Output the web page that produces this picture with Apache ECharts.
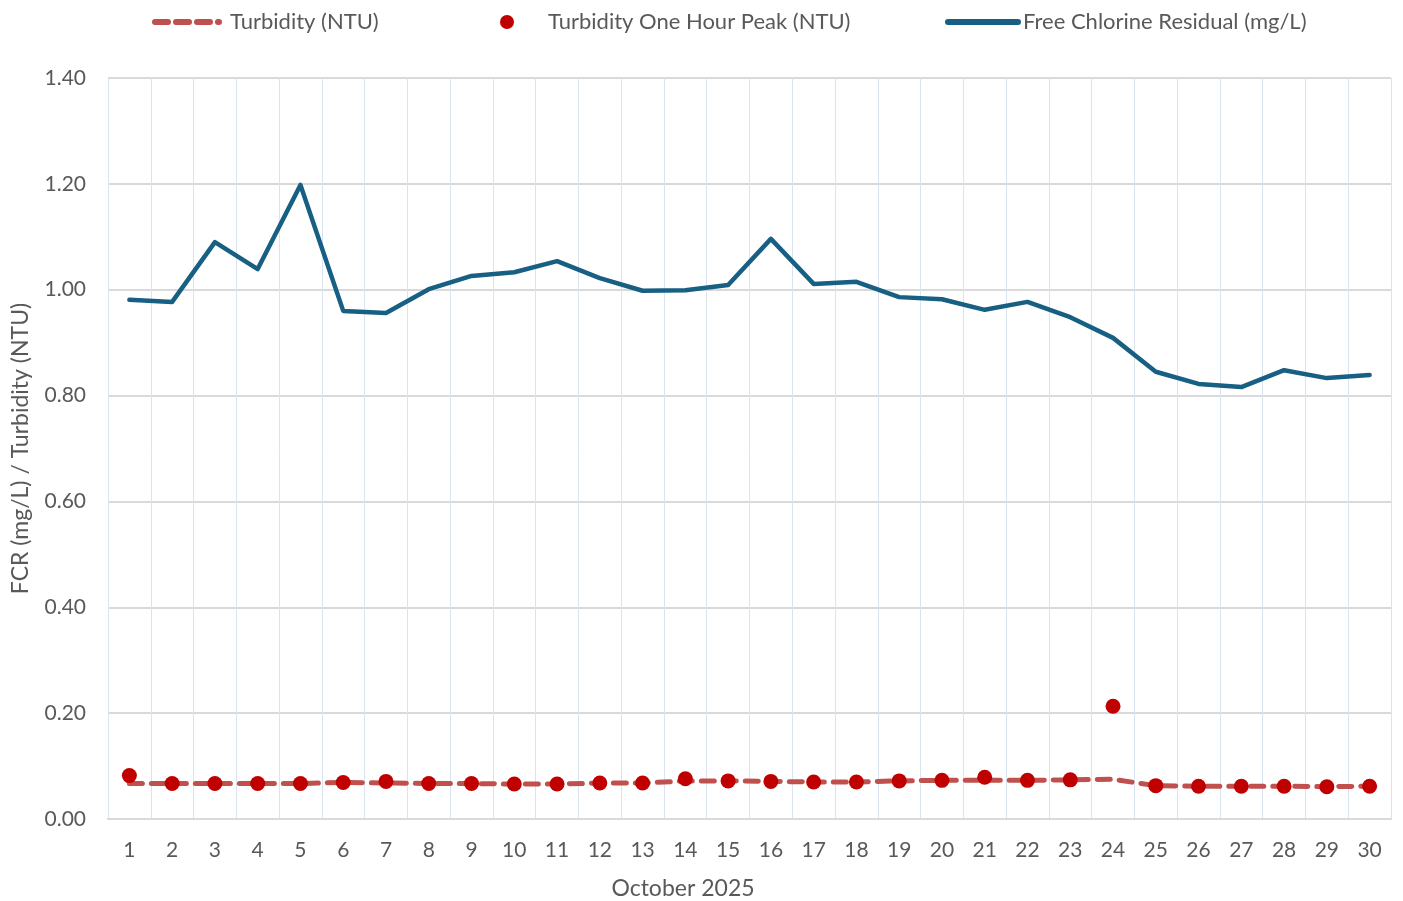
<!DOCTYPE html>
<html>
<head>
<meta charset="utf-8">
<script src="https://cdn.jsdelivr.net/npm/echarts@6/dist/echarts.min.js"></script>
<style>
  html, body { margin: 0; padding: 0; background: #fff; }
  #chart { width: 1403px; height: 901px; }
</style>
</head>
<body>
<div id="chart"></div>
<script>
// 日期 (October 2025)
var days = [];
for (var d = 1; d <= 30; d++) days.push(String(d));

var turbidity = [0.067, 0.067, 0.067, 0.067, 0.067, 0.069, 0.068, 0.067, 0.067, 0.066,
  0.066, 0.068, 0.068, 0.072, 0.072, 0.071, 0.070, 0.070, 0.072, 0.073,
  0.073, 0.073, 0.074, 0.075, 0.063, 0.062, 0.062, 0.062, 0.061, 0.062];

var turbidityPeak = [0.082, 0.067, 0.067, 0.067, 0.067, 0.069, 0.071, 0.067, 0.067, 0.066,
  0.066, 0.068, 0.068, 0.076, 0.072, 0.071, 0.070, 0.070, 0.072, 0.073,
  0.079, 0.073, 0.074, 0.213, 0.063, 0.062, 0.062, 0.062, 0.061, 0.062];

var fcr = [0.981, 0.977, 1.090, 1.039, 1.198, 0.960, 0.956, 1.001, 1.026, 1.033,
  1.054, 1.022, 0.998, 0.999, 1.009, 1.096, 1.011, 1.015, 0.986, 0.982,
  0.962, 0.977, 0.948, 0.909, 0.845, 0.822, 0.816, 0.848, 0.833, 0.839];

var font = 'Lato, "Open Sans", sans-serif';
var txt = '#595959';

var legendBase = {
  top: 6,
  itemHeight: 14,
  textStyle: { color: txt, fontSize: 22, fontFamily: font },
  itemStyle: { opacity: 0 },
  selectedMode: false
};

var option = {
  animation: false,
  backgroundColor: '#fff',
  textStyle: { fontFamily: font },
  legend: [
    Object.assign({}, legendBase, {
      left: 147, itemWidth: 64,
      lineStyle: { width: 6, type: [13, 8], cap: 'round' },
      textStyle: { color: txt, fontSize: 22, fontFamily: font, padding: [0, 0, 0, 6] },
      data: ['Turbidity (NTU)']
    }),
    Object.assign({}, legendBase, {
      left: 495, itemWidth: 72,
      itemStyle: { opacity: 1 },
      data: [{ name: 'Turbidity One Hour Peak (NTU)', icon: 'circle' }]
    }),
    Object.assign({}, legendBase, {
      left: 940, itemWidth: 70,
      lineStyle: { width: 6, cap: 'round' },
      data: ['Free Chlorine Residual (mg/L)']
    })
  ],
  grid: {
    left: 108,
    right: 12,
    top: 78,
    bottom: 82,
    outerBoundsMode: 'none'
  },
  xAxis: {
    type: 'category',
    data: days,
    boundaryGap: true,
    name: 'October 2025',
    nameLocation: 'middle',
    nameGap: 58,
    nameTextStyle: { color: txt, fontSize: 23, padding: [0, 133, 0, 0] },
    axisLine: { lineStyle: { color: '#d9d9d9', width: 2 } },
    axisTick: { show: false },
    axisLabel: { color: txt, fontSize: 21, margin: 21 },
    splitLine: { show: true, lineStyle: { color: '#dae3f0', width: 1 } }
  },
  yAxis: {
    type: 'value',
    min: 0,
    max: 1.4,
    interval: 0.2,
    name: 'FCR (mg/L) / Turbidity (NTU)',
    nameLocation: 'middle',
    nameGap: 76,
    nameTextStyle: { color: txt, fontSize: 23 },
    axisLine: { show: false },
    axisTick: { show: false },
    axisLabel: {
      color: txt, fontSize: 21, margin: 22,
      formatter: function (v) { return v.toFixed(2); }
    },
    splitLine: { lineStyle: { color: '#d9d9d9', width: 2 } }
  },
  series: [{
    name: 'Turbidity (NTU)',
    type: 'line',
    data: turbidity,
    symbol: 'none',
    z: 2,
    itemStyle: { color: '#c0504d' },
    lineStyle: { color: '#c0504d', width: 5, type: [13, 9], cap: 'round' }
  }, {
    name: 'Turbidity One Hour Peak (NTU)',
    type: 'scatter',
    data: turbidityPeak,
    symbol: 'circle',
    symbolSize: 15,
    z: 3,
    itemStyle: { color: '#c00000', opacity: 1 }
  }, {
    name: 'Free Chlorine Residual (mg/L)',
    type: 'line',
    data: fcr,
    symbol: 'none',
    z: 4,
    itemStyle: { color: '#175f83' },
    lineStyle: { color: '#175f83', width: 4.5, cap: 'round', join: 'round' }
  }]
};

var chart = echarts.init(document.getElementById('chart'));
chart.setOption(option);
</script>
</body>
</html>
